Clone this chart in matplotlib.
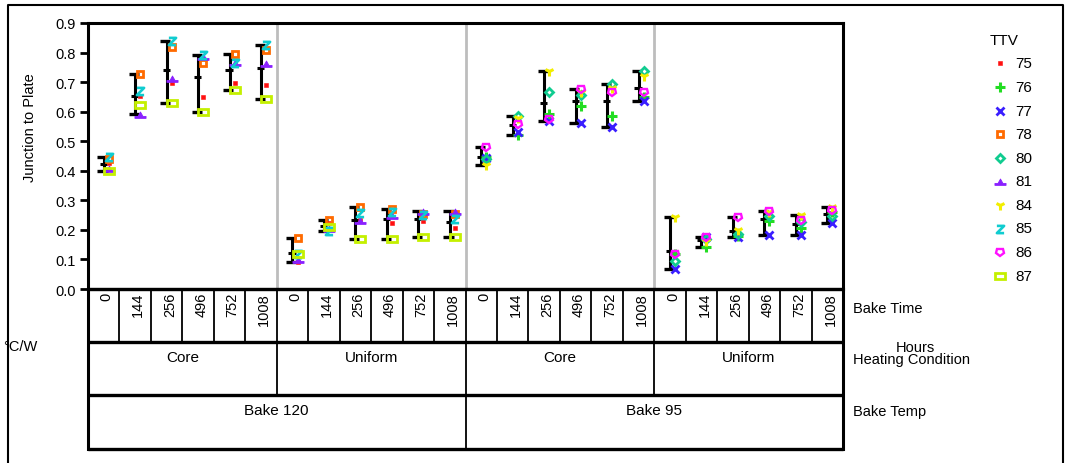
import matplotlib
matplotlib.use("Agg")
import matplotlib.pyplot as plt
import numpy as np
from matplotlib.path import Path
from matplotlib.markers import MarkerStyle
from matplotlib.transforms import Affine2D
from matplotlib.lines import Line2D

plt.rcParams['font.family'] = ['Liberation Sans', 'DejaVu Sans']

# ---------------- data ----------------
bake_times = ['0', '144', '256', '496', '752', '1008']
heating = ['Core', 'Uniform']
bake_temps = ['Bake 120', 'Bake 95']

ttv_labels = ['75', '76', '77', '78', '80', '81', '84', '85', '86', '87']
# TTVs measured in each bake temperature
ttv_bake120 = ['75', '78', '81', '85', '87']
ttv_bake95 = ['76', '77', '80', '84', '86']

# values per TTV: Core (6 bake times) followed by Uniform (6 bake times)
v75 = [0.425, 0.653, 0.697, 0.649, 0.697, 0.691, 0.092, 0.222, 0.232, 0.225, 0.230, 0.205]
v78 = [0.440, 0.729, 0.818, 0.763, 0.794, 0.809, 0.172, 0.232, 0.277, 0.271, 0.255, 0.255]
v81 = [0.408, 0.593, 0.713, 0.788, 0.768, 0.766, 0.103, 0.207, 0.235, 0.250, 0.265, 0.264]
v85 = [0.448, 0.671, 0.838, 0.792, 0.764, 0.825, 0.118, 0.197, 0.258, 0.260, 0.250, 0.238]
v87 = [0.398, 0.621, 0.631, 0.598, 0.674, 0.643, 0.119, 0.210, 0.170, 0.170, 0.176, 0.176]

v76 = [0.447, 0.520, 0.592, 0.619, 0.587, 0.649, 0.118, 0.142, 0.180, 0.230, 0.208, 0.262]
v77 = [0.442, 0.530, 0.568, 0.562, 0.548, 0.636, 0.068, 0.176, 0.177, 0.184, 0.184, 0.223]
v80 = [0.440, 0.587, 0.668, 0.658, 0.695, 0.736, 0.095, 0.168, 0.185, 0.247, 0.227, 0.247]
v84 = [0.418, 0.579, 0.736, 0.668, 0.680, 0.719, 0.244, 0.163, 0.199, 0.262, 0.250, 0.277]
v86 = [0.480, 0.558, 0.576, 0.676, 0.668, 0.668, 0.118, 0.176, 0.244, 0.264, 0.232, 0.266]

values = {'75': v75, '78': v78, '81': v81, '85': v85, '87': v87,
          '76': v76, '77': v77, '80': v80, '84': v84, '86': v86}

# ---------------- styles ----------------
colors = {'75': '#FF1010', '76': '#22DD22', '77': '#3A1EFF', '78': '#FF6A00',
          '80': '#10CC90', '81': '#8A20FF', '84': '#F2EE00', '85': '#10CCD0',
          '86': '#FF10FF', '87': '#C4F000'}

zpath = Path([(-1, 1), (1, 1), (-1, -1), (1, -1)],
             [Path.MOVETO, Path.LINETO, Path.LINETO, Path.LINETO])
hat = Path([(-1, -0.7), (1, -0.7), (1, -0.35), (0.45, -0.35), (0, 0.45),
            (-0.45, -0.35), (-1, -0.35), (-1, -0.7)],
           [Path.MOVETO] + [Path.LINETO] * 6 + [Path.CLOSEPOLY])

def mstyle(t):
    if t == '75':
        return dict(marker='s', ms=2.6, mfc=colors[t], mec=colors[t], mew=0.4)
    if t == '76':
        return dict(marker='+', ms=6.5, mec=colors[t], mew=2.2)
    if t == '77':
        return dict(marker='x', ms=5.5, mec=colors[t], mew=2.0)
    if t == '78':
        return dict(marker='s', ms=4.2, mfc='none', mec=colors[t], mew=2.0)
    if t == '80':
        return dict(marker='D', ms=4.2, mfc='none', mec=colors[t], mew=2.0)
    if t == '81':
        return dict(marker=hat, ms=8, mfc=colors[t], mec=colors[t], mew=0.6)
    if t == '84':
        return dict(marker='1', ms=7, mec=colors[t], mew=2.2)
    if t == '85':
        return dict(marker=zpath, ms=5.2, mfc='none', mec=colors[t], mew=1.9)
    if t == '86':
        return dict(marker=MarkerStyle('p', fillstyle='none',
                                       transform=Affine2D().rotate_deg(180)),
                    ms=6.2, mfc='none', mec=colors[t], mew=1.7)
    if t == '87':
        return dict(marker=MarkerStyle('s', fillstyle='none',
                                       transform=Affine2D().scale(1.45, 0.85)),
                    ms=5.3, mfc='none', mec=colors[t], mew=2.0)

W, H = 1068, 464
fig = plt.figure(figsize=(W / 100, H / 100), dpi=100)

def fx(x):
    return x / W

def fy(y):
    return 1 - y / H

# main axes (pixel box 88..843 x 24..290)
ax = fig.add_axes([fx(88), fy(290), fx(843) - fx(88), fy(24) - fy(290)])
ncell = len(bake_times) * len(heating) * len(bake_temps)
ax.set_xlim(-0.5, ncell - 0.5)
ax.set_ylim(0, 0.9)
ax.set_yticks(np.arange(0, 0.91, 0.1))
ax.set_yticklabels([f'{v:.1f}' for v in np.arange(0, 0.91, 0.1)], fontsize=10.5)
ax.tick_params(axis='y', direction='out', length=6, width=2, pad=3)
ax.set_xticks([])
for s in ax.spines.values():
    s.set_linewidth(2.2)
    s.set_color('black')

# gray separators between heating-condition groups
for b in range(1, 4):
    ax.axvline(b * 6 - 0.5, color='#BDBDBD', lw=2, zorder=0)

moff = 0.16
for ti, (temp, tlist) in enumerate(zip(bake_temps, [ttv_bake120, ttv_bake95])):
    for hi in range(len(heating)):
        for bi in range(len(bake_times)):
            k = hi * 6 + bi
            xc = ti * 12 + k
            vals = np.array([values[t][k] for t in tlist])
            lo, hi_v, mn = vals.min(), vals.max(), vals.mean()
            ax.plot([xc, xc], [lo, hi_v], color='black', lw=2.2, zorder=2,
                    solid_capstyle='butt')
            for yy in (lo, hi_v):
                ax.plot([xc - 0.2, xc + 0.12], [yy, yy], color='black', lw=2.4,
                        zorder=2, solid_capstyle='butt')
            ax.plot([xc - 0.13, xc + 0.1], [mn, mn], color='black', lw=2.2,
                    zorder=2, solid_capstyle='butt')
            for t in tlist:
                ax.plot([xc + moff], [values[t][k]], ls='none', zorder=3,
                        **mstyle(t))

# table axes (pixel box 88..843 x 290..450)
axt = fig.add_axes([fx(88), fy(450), fx(843) - fx(88), fy(290) - fy(450)])
axt.set_xlim(-0.5, ncell - 0.5)
axt.set_ylim(160, 0)
axt.axis('off')
r1, r2 = 53, 106
for yy in (0, r1, r2, 160):
    axt.plot([-0.5, ncell - 0.5], [yy, yy], color='black', lw=2.4,
             clip_on=False, solid_capstyle='butt')
axt.plot([-0.5, -0.5], [0, 160], color='black', lw=2.2, clip_on=False)
axt.plot([ncell - 0.5, ncell - 0.5], [0, 160], color='black', lw=2.2, clip_on=False)
for i in range(1, ncell):
    axt.plot([i - 0.5, i - 0.5], [0, r1], color='black', lw=1.3, clip_on=False)
for i in range(1, 4):
    axt.plot([i * 6 - 0.5, i * 6 - 0.5], [r1, r2], color='black', lw=1.3, clip_on=False)
axt.plot([11.5, 11.5], [r2, 160], color='black', lw=1.3, clip_on=False)

for i in range(ncell):
    axt.text(i + 0.1, 3, bake_times[i % 6], rotation=90, ha='center', va='top',
             fontsize=10.5)
for g in range(4):
    axt.text(g * 6 + 2.5, r1 + 8, heating[g % 2], ha='center', va='top', fontsize=11)
for g in range(2):
    axt.text(g * 12 + 5.5, r2 + 8, bake_temps[g], ha='center', va='top', fontsize=11)

# row labels
fig.text(fx(853), fy(309), 'Bake Time', ha='left', va='center', fontsize=10.5)
fig.text(fx(915), fy(348), 'Hours', ha='center', va='center', fontsize=10.5)
fig.text(fx(853), fy(360), 'Heating Condition', ha='left', va='center', fontsize=10.5)
fig.text(fx(853), fy(412), 'Bake Temp', ha='left', va='center', fontsize=10.5)
fig.text(fx(3), fy(347), '°C/W', ha='left', va='center', fontsize=10.5)
fig.text(fx(30), fy(128), 'Junction to Plate', rotation=90, ha='center',
         va='center', fontsize=10.5)

# legend
fig.text(fx(990), fy(41), 'TTV', ha='left', va='center', fontsize=11)
for i, t in enumerate(ttv_labels):
    yy = 64.3 + i * 23.6
    st = mstyle(t)
    fig.add_artist(Line2D([fx(1000)], [fy(yy)], ls='none', transform=fig.transFigure, **st))
    fig.text(fx(1015), fy(yy), t, ha='left', va='center', fontsize=11)

# outer frame
fig.add_artist(Line2D([fx(8), fx(8), fx(1063), fx(1063)],
                      [fy(464), fy(5.5), fy(5.5), fy(464)],
                      color='black', lw=1.5, transform=fig.transFigure))

fig.savefig('out.png', dpi=100)
